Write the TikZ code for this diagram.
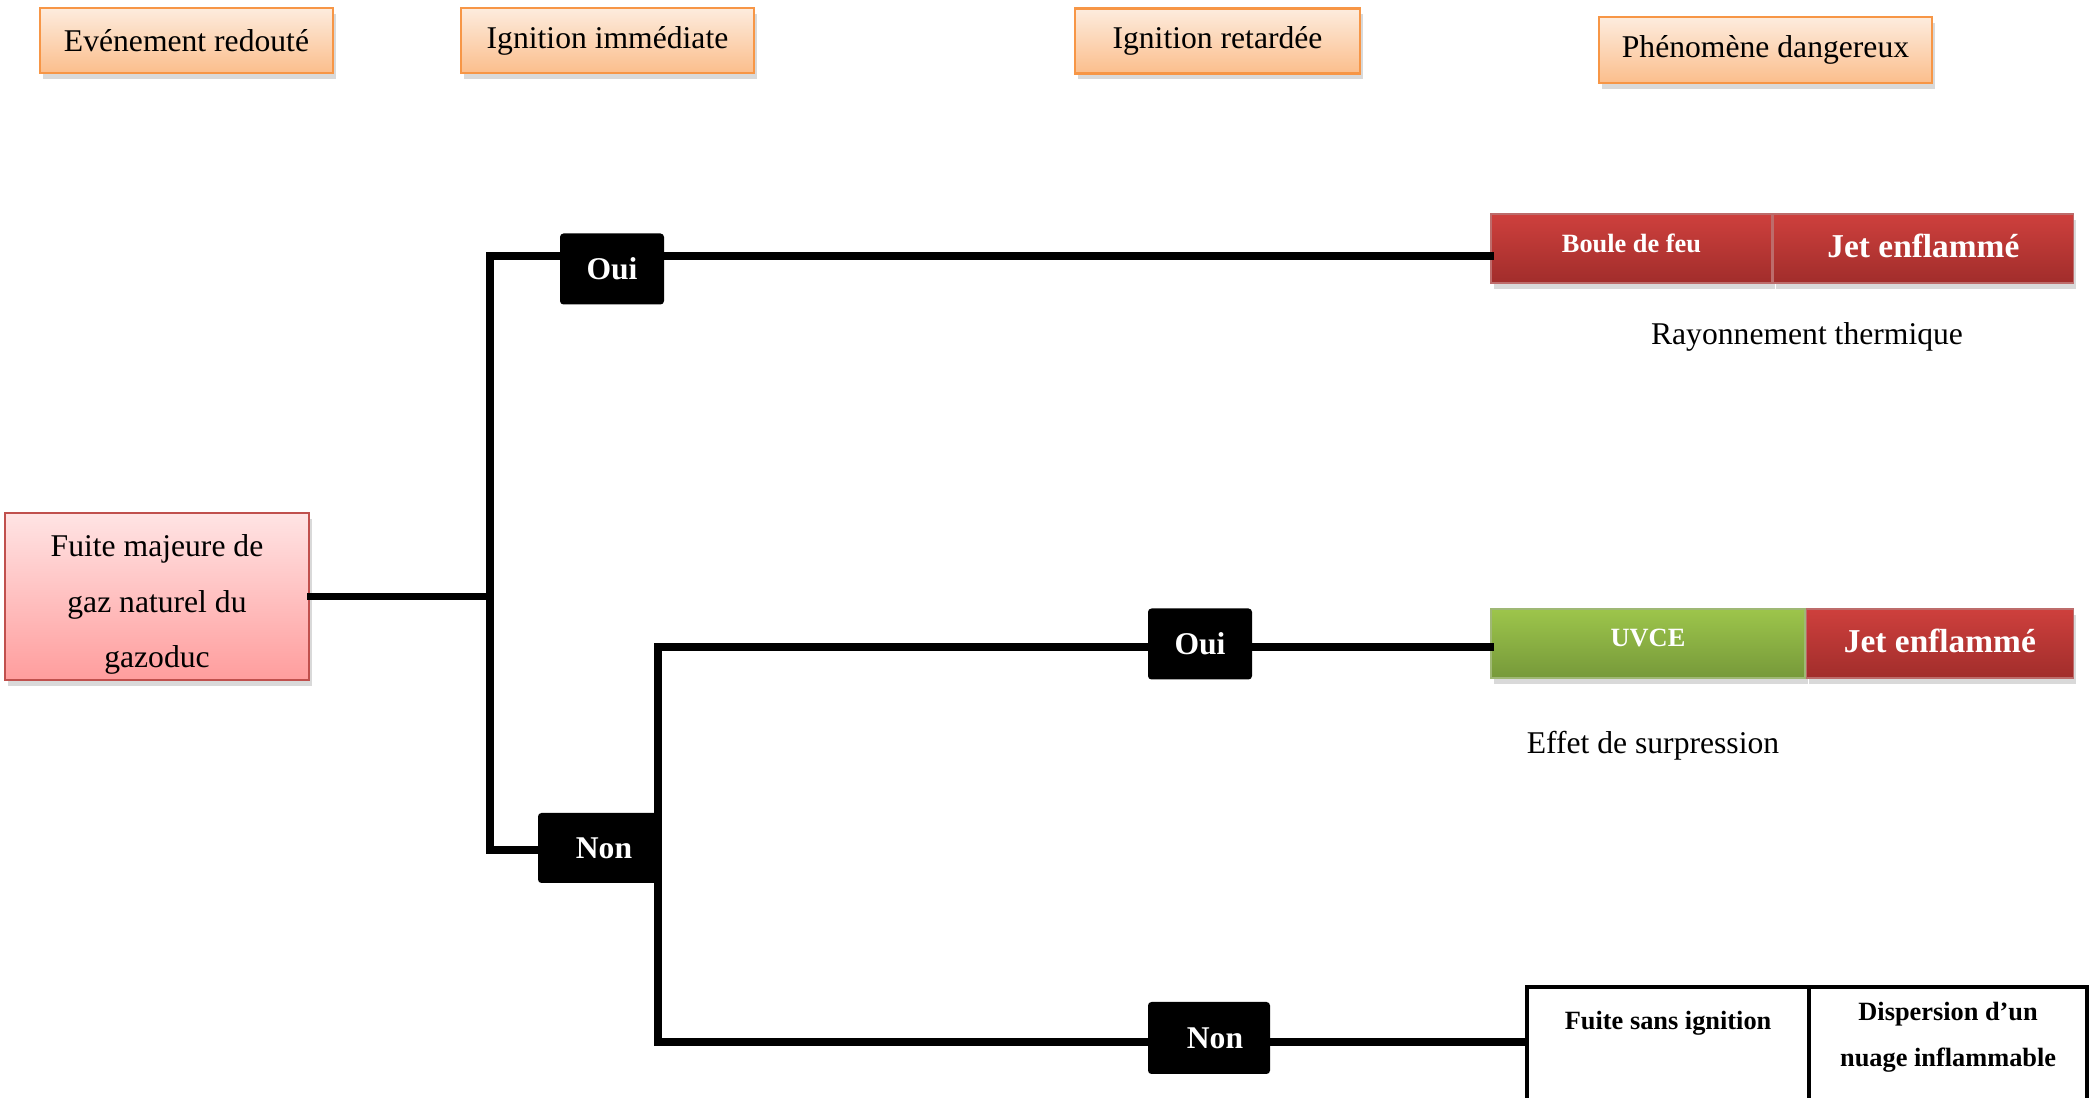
\documentclass[tikz,border=0pt]{standalone}
\usepackage{fontspec}
\setmainfont{Liberation Serif}
\usetikzlibrary{positioning,shadows}
\definecolor{hdtop}{HTML}{FDECDE}
\definecolor{hdbot}{HTML}{FBBE8C}
\definecolor{hdedge}{HTML}{F79646}
\definecolor{pktop}{HTML}{FFE4E4}
\definecolor{pkbot}{HTML}{FF9D9D}
\definecolor{pkedge}{HTML}{C0504D}
\definecolor{rdtop}{HTML}{CE403D}
\definecolor{rdbot}{HTML}{A12D2B}
\definecolor{grtop}{HTML}{9DC54B}
\definecolor{grbot}{HTML}{76993A}

\begin{document}
\begin{tikzpicture}[
  shade/.style={drop shadow={shadow xshift=0.3mm,shadow yshift=-0.6mm,opacity=0.3}},
  hdr/.style={draw=hdedge,thick,top color=hdtop,bottom color=hdbot,shade,
    minimum height=6.5mm,font=\fontsize{9}{11}\selectfont},
  event/.style={draw=pkedge,thick,top color=pktop,bottom color=pkbot,shade,
    minimum width=30.4mm,minimum height=16.7mm},
  eventtext/.style={align=center,font=\fontsize{9}{15.9}\selectfont},
  ans/.style={fill=black,text=white,rounded corners=1pt,minimum height=7.1mm,
    font=\fontsize{9}{11}\selectfont\bfseries},
  red/.style={draw=rdbot!70,top color=rdtop,bottom color=rdbot,shade,text=white,minimum height=6.9mm},
  grn/.style={draw=grbot!70,top color=grtop,bottom color=grbot,shade,text=white,minimum height=6.9mm},
  small/.style={font=\fontsize{7.5}{9}\selectfont\bfseries},
  big/.style={font=\fontsize{9.5}{11}\selectfont\bfseries},
  cell/.style={draw,line width=1.2pt,minimum height=14.5mm,anchor=north west},
  celltext/.style={align=center,font=\fontsize{7.5}{13}\selectfont\bfseries},
  effect/.style={font=\fontsize{9}{11}\selectfont},
  branch/.style={line width=2.2pt,line cap=rect}]
  \useasboundingbox (0,0) rectangle (20.89,-10.98);
  % en-tetes
  \node[hdr,minimum width=29.3mm] (hev) at (1.865,-0.405) {Evénement redouté};
  \node[hdr,minimum width=29.3mm] (himm) at (6.075,-0.405) {Ignition immédiate};
  \node[hdr,minimum width=28.5mm] (hret) at (12.175,-0.41) {Ignition retardée};
  \node[hdr,minimum width=33.3mm,minimum height=6.6mm] (hphen) at (17.655,-0.5) {Phénomène dangereux};
  % evenement
  \node[event] (fuite) at (1.57,-5.965) {};
  \node[eventtext] (fuitet) at ([yshift=-0.8mm]fuite.center) {Fuite majeure de\\gaz naturel du\\gazoduc};
  \coordinate (j1top) at (4.90,-2.56);
  \coordinate (j1bot) at (4.90,-8.50);
  \coordinate (j2top) at (6.58,-6.47);
  \coordinate (j2bot) at (6.58,-10.42);
  \node[ans,minimum width=10.4mm] (oui1) at (6.12,-2.69) {Oui};
  \node[ans,minimum width=12mm,minimum height=7mm] (non1) at (5.98,-8.48) {\hspace{1.2mm}Non};
  \node[ans,minimum width=10.4mm] (oui2) at (12.0,-6.44) {Oui};
  \node[ans,minimum width=12.2mm,minimum height=7.2mm] (non2) at (12.09,-10.38) {\hspace{1.2mm}Non};
  % phenomenes
  \node[red,small,minimum width=28.1mm] (boule) at (16.315,-2.485) {\raisebox{3pt}{Boule de feu}};
  \node[red,big,right=0mm of boule,minimum width=30mm] (jet1) {\raisebox{1.5pt}{Jet enflammé}};
  \node[effect] (rayon) at (18.07,-3.37) {Rayonnement thermique};
  \node[grn,small,minimum width=31.4mm] (uvce) at (16.48,-6.435) {\raisebox{3pt}{UVCE}};
  \node[red,big,right=0mm of uvce,minimum width=26.7mm] (jet2) {\raisebox{1.5pt}{Jet enflammé}};
  \node[effect] (surp) at (16.53,-7.46) {Effet de surpression};
  \node[cell,minimum width=28.2mm] (sansig) at (15.25,-9.85) {};
  \node[cell,minimum width=27.8mm] (disp) at (18.07,-9.85) {};
  \node[celltext] (sansigt) at ([yshift=-3.8mm]sansig.north) {Fuite sans ignition};
  \node[celltext] (dispt) at ([yshift=-5.2mm]disp.north) {Dispersion d’un\\nuage inflammable};
  % branches
  \draw[branch] (fuite.east) -- (fuite.east -| j1top);
  \draw[branch] (oui1.west |- j1top) -- (j1top) -- (j1bot) -- (non1.west |- j1bot);
  \draw[branch] (oui1.east |- j1top) -- (boule.west |- j1top);
  \draw[branch] (oui2.west |- j2top) -- (j2top) -- (j2bot) -- (non2.west |- j2bot);
  \draw[branch] (oui2.east |- j2top) -- (uvce.west |- j2top);
  \draw[branch] (non2.east |- j2bot) -- (sansig.west |- j2bot);
\end{tikzpicture}
\end{document}
